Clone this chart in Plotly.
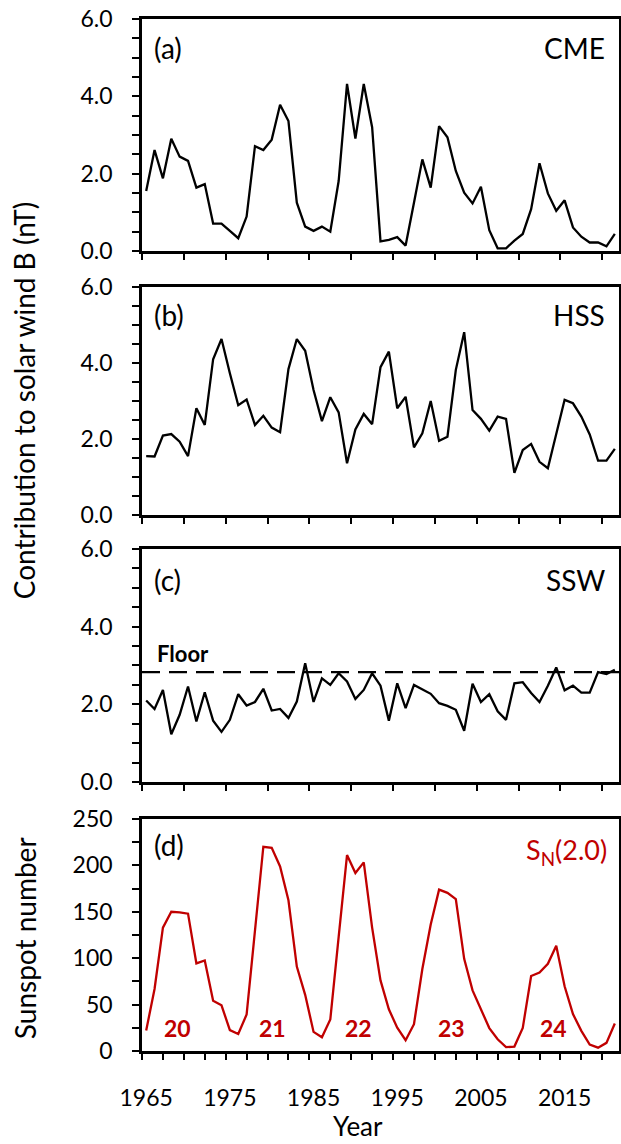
import plotly.graph_objects as go
from plotly.subplots import make_subplots

years = list(range(1965, 2022))

cme = [1.55, 2.61, 1.88, 2.90, 2.44, 2.33, 1.64, 1.73, 0.71, 0.71,
       0.52, 0.33, 0.89, 2.71, 2.61, 2.88, 3.78, 3.36, 1.25, 0.63,
       0.52, 0.63, 0.50, 1.81, 4.32, 2.91, 4.32, 3.20, 0.25, 0.29,
       0.36, 0.14, 1.25, 2.37, 1.64, 3.23, 2.94, 2.07, 1.51, 1.23,
       1.66, 0.54, 0.07, 0.07, 0.27, 0.44, 1.08, 2.27, 1.49, 1.04,
       1.31, 0.61, 0.37, 0.22, 0.22, 0.12, 0.44]

hss = [1.55, 1.54, 2.09, 2.13, 1.93, 1.55, 2.81, 2.37, 4.10, 4.63,
       3.73, 2.89, 3.04, 2.37, 2.61, 2.30, 2.18, 3.84, 4.63, 4.32,
       3.29, 2.47, 3.10, 2.70, 1.36, 2.25, 2.66, 2.39, 3.89, 4.30,
       2.81, 3.11, 1.78, 2.15, 3.00, 1.95, 2.06, 3.82, 4.81, 2.76,
       2.53, 2.22, 2.59, 2.53, 1.11, 1.71, 1.87, 1.40, 1.23, 2.11,
       3.03, 2.94, 2.59, 2.12, 1.43, 1.43, 1.74]

ssw = [2.10, 1.88, 2.37, 1.23, 1.73, 2.46, 1.56, 2.31, 1.58, 1.29,
       1.60, 2.26, 1.97, 2.06, 2.40, 1.84, 1.88, 1.65, 2.07, 3.06,
       2.06, 2.67, 2.50, 2.80, 2.59, 2.14, 2.37, 2.80, 2.48, 1.58,
       2.54, 1.90, 2.50, 2.39, 2.27, 2.03, 1.96, 1.86, 1.32, 2.53,
       2.06, 2.26, 1.82, 1.60, 2.54, 2.57, 2.29, 2.06, 2.48, 2.95,
       2.36, 2.48, 2.30, 2.30, 2.83, 2.78, 2.89]

ssw_floor = 2.83

sunspots = [22.0, 66.8, 132.9, 150.0, 149.4, 148.0, 94.4, 97.6, 54.1, 49.2,
            22.5, 18.4, 39.3, 131.0, 220.1, 218.9, 198.9, 162.4, 91.0, 60.5,
            20.6, 14.8, 33.9, 123.0, 211.1, 191.8, 203.3, 133.0, 76.1, 44.9,
            25.1, 11.6, 28.9, 88.3, 136.3, 173.9, 170.4, 163.6, 99.3, 65.3,
            45.8, 24.7, 12.6, 4.2, 4.8, 24.9, 80.8, 84.5, 94.0, 113.3,
            69.8, 39.8, 21.7, 7.0, 3.6, 8.8, 29.6]

cycle_labels = ["20", "21", "22", "23", "24"]
cycle_label_years = [1968.7, 1980.1, 1990.4, 2001.5, 2013.7]
cycle_label_value = 24.5

x_label_years = [1965, 1975, 1985, 1995, 2005, 2015]
x_label_text = [str(y) for y in x_label_years]

panel_tags = ["(a)", "(b)", "(c)", "(d)"]
panel_names = ["CME", "HSS", "SSW"]

FONT = "Lato"
RED = "#C00000"
BLACK = "#000000"

fig = make_subplots(rows=4, cols=1)

for i, series in enumerate([cme, hss, ssw]):
    fig.add_trace(go.Scatter(x=years, y=series, mode="lines",
                             line=dict(color=BLACK, width=2.3),
                             hoverinfo="skip"), row=i + 1, col=1)
fig.add_trace(go.Scatter(x=years, y=sunspots, mode="lines",
                         line=dict(color=RED, width=2.3),
                         hoverinfo="skip"), row=4, col=1)

# Floor dashed line in panel (c)
fig.add_shape(type="line", xref="x3 domain", yref="y3", x0=0, x1=1,
              y0=ssw_floor, y1=ssw_floor,
              line=dict(color=BLACK, width=2.3, dash="18px,9px"))

domains = [[0.7752, 1.0], [0.5194, 0.7403], [0.2607, 0.4864], [0.0, 0.2248]]

axis_common = dict(showline=True, mirror=True, linecolor=BLACK, linewidth=2.5,
                   showgrid=False, zeroline=False, automargin=False)

tickfont = dict(family=FONT, size=23, color=BLACK)

for i in range(4):
    xa = "xaxis" if i == 0 else f"xaxis{i+1}"
    ya = "yaxis" if i == 0 else f"yaxis{i+1}"
    if i < 3:
        fig.layout[xa].update(range=[1964.5, 2021.5], tickmode="linear",
                              tick0=1964.5, dtick=5, ticks="outside",
                              ticklen=6, tickwidth=2, tickcolor=BLACK,
                              showticklabels=False, **axis_common)
        fig.layout[ya].update(domain=domains[i], range=[0, 6],
                              tickmode="linear", tick0=0, dtick=2,
                              tickformat=".1f", ticks="outside", ticklen=7,
                              tickwidth=2, tickcolor=BLACK, tickfont=tickfont,
                              ticklabelstandoff=15,
                              minor=dict(ticks="outside", tick0=0, dtick=0.5,
                                         ticklen=7, tickwidth=2,
                                         tickcolor=BLACK),
                              **axis_common)
    else:
        fig.layout[xa].update(range=[1964.5, 2021.5], tickmode="array",
                              tickvals=x_label_years, ticktext=x_label_text,
                              ticks="", ticklen=0, tickfont=tickfont,
                              ticklabelstandoff=25,
                              minor=dict(ticks="outside", tickmode="linear",
                                         tick0=1964.5, dtick=2.5, ticklen=6,
                                         tickwidth=2, tickcolor=BLACK),
                              **axis_common)
        fig.layout[ya].update(domain=domains[i], range=[0, 250],
                              tickmode="linear", tick0=0, dtick=50,
                              ticks="outside", ticklen=7, tickwidth=2,
                              tickcolor=BLACK, tickfont=tickfont,
                              ticklabelstandoff=15,
                              minor=dict(ticks="outside", tick0=0, dtick=25,
                                         ticklen=7, tickwidth=2,
                                         tickcolor=BLACK),
                              **axis_common)

annotations = []
tag_y = [0.875, 0.877, 0.867, 0.888]
for i in range(4):
    xr = "x domain" if i == 0 else f"x{i+1} domain"
    yr = "y domain" if i == 0 else f"y{i+1} domain"
    annotations.append(dict(text=panel_tags[i], xref=xr, yref=yr,
                            x=0.021, y=tag_y[i], xanchor="left",
                            yanchor="middle", showarrow=False,
                            font=dict(family=FONT, size=28, color=BLACK)))
    if i < 3:
        annotations.append(dict(text=panel_names[i], xref=xr, yref=yr,
                                x=0.975, y=tag_y[i], xanchor="right",
                                yanchor="middle", showarrow=False,
                                font=dict(family=FONT, size=28, color=BLACK)))

annotations.append(dict(text="S<sub>N</sub>(2.0)", xref="x4 domain",
                        yref="y4 domain", x=0.978, y=0.86, xanchor="right",
                        yanchor="middle", showarrow=False,
                        font=dict(family=FONT, size=27, color=RED)))

annotations.append(dict(text="<b>Floor</b>", xref="x3 domain", yref="y3",
                        x=0.027, y=ssw_floor, xanchor="left",
                        yanchor="bottom", yshift=3, showarrow=False,
                        font=dict(family=FONT, size=22, color=BLACK)))

for lab, yr in zip(cycle_labels, cycle_label_years):
    annotations.append(dict(text=f"<b>{lab}</b>", xref="x4", yref="y4",
                            x=yr, y=cycle_label_value, xanchor="center",
                            yanchor="middle", showarrow=False,
                            font=dict(family=FONT, size=23, color=RED)))

annotations.append(dict(text="Contribution to solar wind B (nT)",
                        xref="paper", yref="paper", x=-0.247, y=0.6308,
                        xanchor="center", yanchor="middle", textangle=-90,
                        showarrow=False,
                        font=dict(family=FONT, size=28, color=BLACK)))
annotations.append(dict(text="Sunspot number",
                        xref="paper", yref="paper", x=-0.245, y=0.1095,
                        xanchor="center", yanchor="middle", textangle=-90,
                        showarrow=False,
                        font=dict(family=FONT, size=28, color=BLACK)))
annotations.append(dict(text="Year", xref="paper", yref="paper",
                        x=0.452, y=-0.0725, xanchor="center",
                        yanchor="middle", showarrow=False,
                        font=dict(family=FONT, size=26, color=BLACK)))

fig.update_layout(width=621, height=1144,
                  margin=dict(l=142, r=2, t=19, b=93),
                  paper_bgcolor="white", plot_bgcolor="white",
                  showlegend=False, annotations=annotations,
                  font=dict(family=FONT, color=BLACK))

fig.write_html("out.html", config={"displayModeBar": False},
               post_script="document.body.style.margin='0px';"
                           "document.body.style.overflow='hidden';")
